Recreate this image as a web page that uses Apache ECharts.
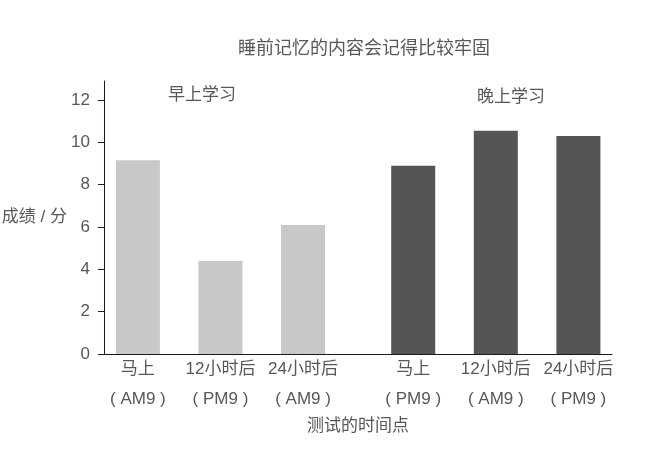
<!DOCTYPE html>
<html>
<head>
<meta charset="utf-8">
<script src="https://cdn.jsdelivr.net/npm/echarts@6/dist/echarts.min.js"></script>
<style>html,body{margin:0;padding:0;background:#fff}#c{width:645px;height:451px}</style>
</head>
<body>
<div id="c"></div>
<script>
var title = '睡前记忆的内容会记得比较牢固';
var groupNames = ['早上学习', '晚上学习'];
var categories = ['马上', '12小时后', '24小时后', '马上', '12小时后', '24小时后'];
var times = ['( AM9 )', '( PM9 )', '( AM9 )', '( PM9 )', '( AM9 )', '( PM9 )'];
var morningValues = [9.15, 4.4, 6.1];
var eveningValues = [8.9, 10.55, 10.3];
var yTicks = [0, 2, 4, 6, 8, 10, 12];
var yName = '成绩 / 分';
var xName = '测试的时间点';

var FONT = '"Liberation Sans", "Noto Sans CJK SC", sans-serif';
var TXT = '#595757';
var GROUP_COLORS = ['#c8c8c8', '#575553'];
var GROUP_GAP = 1 / 3;

function xOf(g, i) { return g * (3 + GROUP_GAP) + i; }
var xPositions = [];
for (var g = 0; g < 2; g++) for (var i = 0; i < 3; i++) xPositions.push(xOf(g, i));

function labelFor(v) {
  var best = 0, bd = 1e9;
  for (var k = 0; k < xPositions.length; k++) {
    var d = Math.abs(xPositions[k] - v);
    if (d < bd) { bd = d; best = k; }
  }
  return bd < 0.01 ? categories[best] + '\n' + times[best] : '';
}

var barData = [];
[morningValues, eveningValues].forEach(function (vals, g) {
  vals.forEach(function (v, i) {
    barData.push({value: [xOf(g, i), v], itemStyle: {color: GROUP_COLORS[g]}});
  });
});

var chart = echarts.init(document.getElementById('c'), null, {renderer: 'canvas'});
chart.setOption({
  animation: false,
  backgroundColor: '#fff',
  textStyle: {fontFamily: FONT},
  title: {
    text: title, left: 233, top: 35,
    textStyle: {fontFamily: FONT, fontSize: 18, fontWeight: 'normal', color: TXT}
  },
  grid: {left: 104, right: 33, top: 81, bottom: 97, containLabel: false, outerBoundsMode: 'none'},
  xAxis: {
    type: 'value', min: -0.41, max: 5.74,
    splitLine: {show: false},
    axisLine: {show: true, onZero: false, lineStyle: {color: '#231815', width: 1}},
    axisTick: {show: false},
    axisLabel: {
      customValues: xPositions,
      formatter: function (v) { return labelFor(v); },
      color: TXT, fontSize: 17, lineHeight: 30, margin: 0, fontFamily: FONT
    },
    name: xName, nameLocation: 'middle', nameGap: 64, nameMoveOverlap: false,
    nameTextStyle: {color: TXT, fontSize: 17, fontFamily: FONT}
  },
  yAxis: {
    type: 'value', min: 0, max: 12.9,
    splitLine: {show: false},
    axisLine: {show: true, onZero: false, lineStyle: {color: '#231815', width: 1}},
    axisTick: {show: true, customValues: yTicks, length: 6, inside: false, lineStyle: {color: '#231815'}},
    axisLabel: {customValues: yTicks, color: TXT, fontSize: 17, margin: 14, fontFamily: FONT},
    name: yName, nameLocation: 'middle', nameRotate: 0, nameGap: 37, nameMoveOverlap: false,
    nameTextStyle: {color: TXT, fontSize: 17, fontFamily: FONT, align: 'right'}
  },
  series: [
    {
      name: groupNames.join(' / '), type: 'bar', barWidth: 44,
      data: barData
    }
  ],
  graphic: [
    {type: 'text', left: 168, top: 87, style: {text: groupNames[0], fill: TXT, font: '17px ' + FONT}},
    {type: 'text', left: 477, top: 89, style: {text: groupNames[1], fill: TXT, font: '17px ' + FONT}}
  ]
});
</script>
</body>
</html>
